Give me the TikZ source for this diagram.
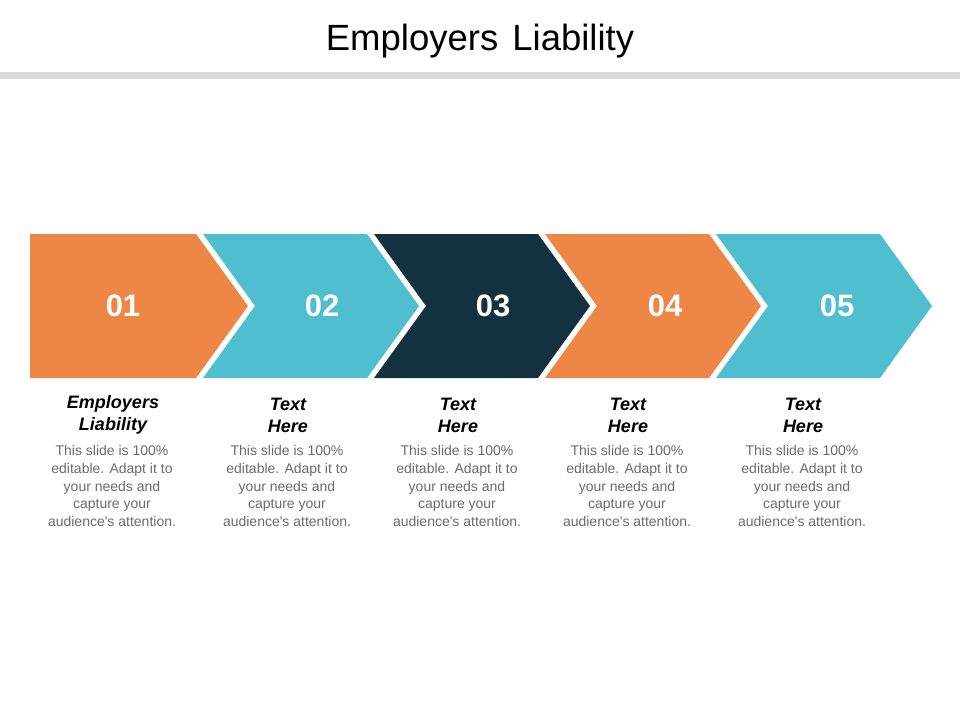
\documentclass[tikz,border=0pt]{standalone}
\usepackage{fontspec}
\setmainfont{Liberation Sans}[Ligatures=TeXOff]
\definecolor{corange}{HTML}{EE8746}
\definecolor{cteal}{HTML}{4FBECE}
\definecolor{cdark}{HTML}{14313F}
\definecolor{cbar}{HTML}{D9D9D9}
\definecolor{cbody}{HTML}{6B6B6B}
\begin{document}
\begin{tikzpicture}[x=1pt,y=-1pt,
  numtext/.style={text=white,font=\fontsize{31}{31}\selectfont\bfseries,inner sep=0pt},
  headtext/.style={align=center,font=\fontsize{18}{22}\selectfont\bfseries\itshape,inner sep=0pt},
  bodytext/.style={align=center,text=cbody,font=\fontsize{14}{17.8}\selectfont,inner sep=0pt}]
\useasboundingbox (0,0) rectangle (960,720);
\fill[white] (0,0) rectangle (960,720);
% title
\node[font=\fontsize{36.5}{40}\selectfont,anchor=base,inner sep=0pt] (title) at (480,50) {Employers\hspace{4pt} Liability};
\fill[cbar] (0,72) rectangle (960,79);
% chevrons
\fill[corange] (30,234) -- (196,234) -- (248,306) -- (196,378) -- (30,378) -- cycle;
\foreach \i/\c in {2/cteal,3/cdark,4/corange,5/cteal}{
  \pgfmathsetmacro{\L}{196+171*(\i-2)+7}
  \pgfmathsetmacro{\R}{196+171*(\i-1)}
  \fill[\c] (\L,234) -- (\R,234) -- (\R+52,306) -- (\R,378) -- (\L,378) -- (\L+52,306) -- cycle;
}
% numbers
\node[numtext] (n1) at (123,306) {01};
\node[numtext] (n2) at (322,306) {02};
\node[numtext] (n3) at (493,306) {03};
\node[numtext] (n4) at (665,306) {04};
\node[numtext] (n5) at (837,306) {05};
% headings
\node[headtext] (h1) at (113,415) {Employers\\Liability};
\node[headtext] (h2) at (288,415) {Text\\Here};
\node[headtext] (h3) at (458,415) {Text\\Here};
\node[headtext] (h4) at (628,415) {Text\\Here};
\node[headtext] (h5) at (803,415) {Text\\Here};
% bodies
\foreach \x/\n in {112/b1,287/b2,457/b3,627/b4,802/b5}{
  \node[bodytext] (\n) at (\x,486) {This slide is 100\%\\editable. Adapt it to\\your needs and\\capture your\\audience's attention.};
}
\end{tikzpicture}
\end{document}
